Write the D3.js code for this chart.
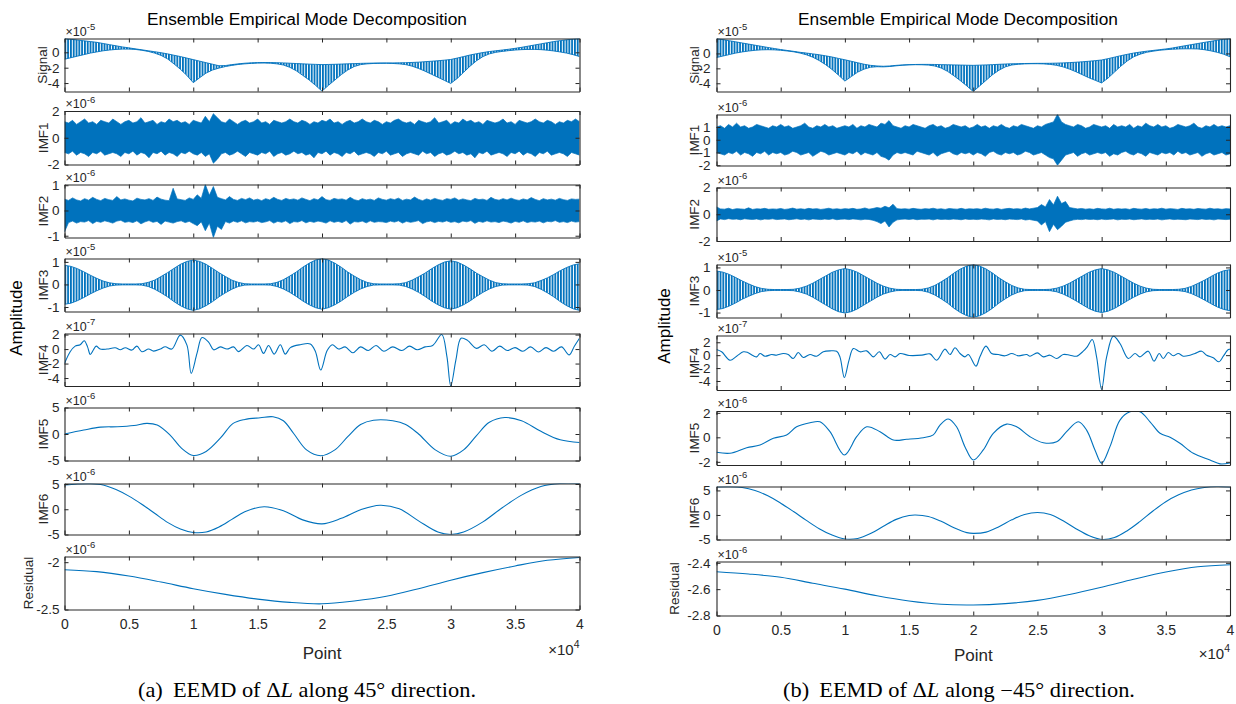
<!DOCTYPE html>
<html><head><meta charset="utf-8">
<script src="https://cdn.jsdelivr.net/npm/d3@7"></script>
<style>body{margin:0;background:#fff}</style>
</head><body><svg id="c" width="1236" height="704"></svg>
<script>
// ---------------- DATA ----------------
const subLabels = ['Signal','IMF1','IMF2','IMF3','IMF4','IMF5','IMF6','Residual'];
const xTicks = [0,0.5,1,1.5,2,2.5,3,3.5,4];
const titleText = 'Ensemble Empirical Mode Decomposition';
const expA = ['-5','-6','-6','-5','-7','-6','-6','-6'];
const expB = ['-5','-6','-6','-5','-7','-6','-6','-6'];
const ticksA = [[-4,-2,0],[-2,0,2],[-1,0,1],[-1,0,1],[-4,-2,0,2],[-5,0,5],[-5,0,5],[-2.5,-2]];
const ticksB = [[-4,-2,0],[-2,-1,0,1],[-2,0,2],[-1,0,1],[-4,-2,0,2],[-2,0,2],[-5,0,5],[-2.8,-2.6,-2.4]];
const domA = [[-5.1,1.8],[-2,2],[-1.07,1.03],[-1.2,1.15],[-5.1,2.15],[-5,5],[-5,5.1],[-2.5,-1.94]];
const domB = [[-5.1,2.0],[-2.02,1.98],[-2,2],[-1.22,1.13],[-5.4,3.05],[-2.26,2.15],[-5,5.8],[-2.8,-2.39]];

// Signal: per-sample upper / lower extremes (x = 0..4 step 0.05, units 1e-5)
const sigA_hi = [1.8,1.7,1.6,1.5,1.4,1.3,1.15,1.0,0.85,0.7,
0.58,0.45,0.33,0.2,0.08,-0.05,-0.2,-0.38,-0.55,-0.75,
-0.95,-1.15,-1.35,-1.55,-1.75,-1.72,-1.6,-1.5,-1.42,-1.37,
-1.34,-1.33,-1.33,-1.35,-1.38,-1.42,-1.46,-1.5,-1.54,-1.57,
-1.6,-1.58,-1.56,-1.53,-1.5,-1.47,-1.44,-1.42,-1.4,-1.39,
-1.38,-1.38,-1.37,-1.35,-1.32,-1.28,-1.22,-1.16,-1.1,-1.02,
-0.93,-0.75,-0.55,-0.35,-0.18,-0.03,0.1,0.2,0.3,0.4,
0.52,0.65,0.8,0.95,1.1,1.25,1.4,1.52,1.63,1.72,1.8];
const sigA_lo = [-0.9,-0.7,-0.5,-0.3,-0.1,0.05,0.2,0.3,0.38,0.42,
0.42,0.38,0.27,0.12,-0.1,-0.4,-0.85,-1.5,-2.2,-3.0,
-3.95,-3.3,-2.7,-2.3,-2.05,-1.85,-1.7,-1.58,-1.5,-1.44,
-1.4,-1.39,-1.42,-1.5,-1.65,-1.95,-2.4,-3.0,-3.6,-4.3,
-5.05,-4.3,-3.6,-2.9,-2.3,-1.85,-1.6,-1.5,-1.45,-1.43,
-1.43,-1.45,-1.5,-1.6,-1.8,-2.1,-2.45,-2.85,-3.25,-3.65,
-4.05,-3.4,-2.6,-1.8,-1.1,-0.55,-0.2,0.0,0.12,0.22,
0.3,0.35,0.38,0.38,0.35,0.28,0.18,0.05,-0.1,-0.3,-0.55];
const sigB_hi = [2.0,1.85,1.7,1.55,1.4,1.25,1.1,0.95,0.8,0.66,
0.52,0.4,0.28,0.15,0.05,-0.06,-0.18,-0.32,-0.48,-0.67,
-0.85,-1.05,-1.25,-1.45,-1.6,-1.68,-1.72,-1.68,-1.6,-1.54,
-1.5,-1.48,-1.47,-1.47,-1.48,-1.5,-1.52,-1.54,-1.56,-1.58,
-1.6,-1.57,-1.54,-1.5,-1.46,-1.42,-1.39,-1.37,-1.35,-1.34,
-1.33,-1.33,-1.32,-1.3,-1.27,-1.23,-1.18,-1.12,-1.05,-0.97,
-0.88,-0.7,-0.5,-0.3,-0.12,0.05,0.18,0.3,0.4,0.5,
0.6,0.72,0.88,1.03,1.18,1.33,1.48,1.62,1.76,1.9,2.0];
const sigB_lo = [-0.55,-0.35,-0.15,0.05,0.2,0.32,0.42,0.48,0.5,0.48,
0.42,0.33,0.22,0.05,-0.18,-0.5,-0.95,-1.5,-2.15,-2.9,
-3.7,-3.1,-2.5,-2.1,-1.85,-1.78,-1.8,-1.75,-1.66,-1.58,
-1.53,-1.51,-1.52,-1.56,-1.68,-1.95,-2.4,-3.0,-3.65,-4.35,
-5.1,-4.35,-3.6,-2.85,-2.25,-1.8,-1.55,-1.45,-1.4,-1.38,
-1.38,-1.4,-1.47,-1.6,-1.8,-2.1,-2.45,-2.85,-3.25,-3.6,
-3.95,-3.3,-2.5,-1.7,-1.0,-0.45,-0.1,0.15,0.3,0.42,
0.5,0.56,0.6,0.62,0.62,0.6,0.5,0.35,0.15,-0.1,-0.45];

// IMF1: per-sample extremes (129 samples over 0..4, units 0.1e-6)
const imf1A_hi = [12,11,13,10,12,14,11,12,10,13,12,11,14,12,10,12,
13,11,12,15,11,12,13,10,12,11,14,12,13,11,12,10,
13,12,11,16,12,18,15,12,11,14,12,10,12,13,11,12,
14,11,12,10,13,12,11,12,14,12,11,13,12,10,12,11,
13,12,14,11,12,10,12,13,11,12,14,12,11,13,12,10,
12,11,13,14,12,11,12,10,13,12,11,12,15,11,12,13,
10,12,11,14,12,13,11,12,10,13,12,11,12,14,11,12,
10,13,12,11,12,14,12,11,13,12,10,12,11,13,12,14,12];
const imf1A_lo = [-11,-12,-10,-13,-11,-12,-14,-11,-12,-10,-13,-12,-11,-12,-14,-11,
-12,-10,-13,-11,-12,-15,-11,-12,-10,-13,-11,-12,-14,-11,-12,-10,
-12,-13,-11,-14,-12,-19,-16,-12,-11,-13,-12,-10,-12,-14,-11,-12,
-13,-11,-12,-10,-14,-12,-11,-13,-12,-10,-12,-11,-13,-12,-15,-11,
-12,-10,-13,-11,-12,-14,-11,-12,-10,-13,-12,-11,-12,-14,-11,-12,
-10,-13,-12,-11,-14,-12,-11,-12,-13,-10,-12,-11,-14,-12,-11,-13,
-12,-10,-12,-11,-13,-12,-15,-11,-12,-10,-13,-12,-11,-12,-14,-11,
-12,-10,-13,-11,-12,-14,-11,-12,-10,-13,-12,-11,-12,-14,-11,-12,-13];
const imf1B_hi = [10,11,9,12,10,13,10,11,9,10,12,11,10,9,11,10,
12,10,11,9,10,11,13,10,9,11,10,12,10,11,9,10,
11,10,12,9,11,10,12,11,10,13,12,15,11,10,9,11,
10,12,11,10,9,11,12,10,11,9,10,12,11,10,11,9,
10,12,10,11,9,11,10,12,10,9,11,10,12,11,10,9,
11,10,12,13,14,20,14,12,11,10,12,11,9,10,12,11,
10,11,9,12,10,11,10,12,9,11,10,13,11,10,12,10,
11,9,10,12,11,10,11,13,10,9,11,10,12,10,11,10,11];
const imf1B_lo = [-10,-11,-12,-10,-11,-9,-12,-10,-11,-13,-10,-11,-9,-12,-10,-11,
-10,-12,-11,-9,-10,-12,-11,-10,-13,-11,-9,-10,-12,-11,-10,-11,
-12,-10,-11,-9,-12,-10,-11,-12,-10,-13,-14,-16,-12,-10,-11,-10,
-11,-12,-9,-10,-11,-12,-10,-13,-11,-10,-9,-11,-12,-10,-11,-10,
-12,-10,-11,-13,-10,-9,-11,-12,-10,-11,-10,-12,-11,-9,-10,-12,
-11,-10,-12,-14,-15,-20,-16,-12,-11,-10,-13,-11,-10,-12,-11,-10,
-11,-10,-13,-11,-12,-10,-9,-11,-12,-10,-11,-13,-10,-11,-12,-10,
-11,-10,-12,-9,-11,-10,-12,-11,-10,-13,-11,-10,-12,-11,-10,-12,-11];

// IMF2: per-sample extremes (129 samples, units 0.01e-6)
const imf2A_hi = [45,40,50,42,38,47,41,52,44,39,48,43,40,55,42,46,
41,38,49,44,42,47,40,53,45,41,39,88,46,43,40,50,
44,62,48,103,60,95,52,47,42,55,44,40,48,43,50,41,
45,39,47,42,52,44,40,48,43,46,41,50,44,39,47,42,
55,43,40,48,44,46,41,52,43,39,47,42,45,40,50,44,
41,47,43,49,40,45,42,53,44,39,46,41,48,43,40,47,
44,50,41,46,42,39,48,43,45,40,52,44,41,47,42,49,
43,40,46,42,51,44,39,47,42,45,41,48,43,40,46,44,45];
const imf2A_lo = [-85,-48,-42,-50,-44,-46,-40,-52,-43,-47,-41,-45,-50,-42,-39,-47,
-44,-48,-41,-53,-45,-40,-47,-43,-55,-42,-46,-50,-44,-41,-48,-43,
-52,-60,-45,-80,-50,-107,-62,-75,-44,-50,-42,-47,-41,-49,-44,-46,
-42,-48,-45,-40,-50,-43,-47,-41,-52,-44,-46,-40,-49,-43,-47,-42,
-45,-50,-41,-47,-43,-48,-40,-54,-44,-46,-42,-49,-41,-47,-44,-45,
-48,-42,-46,-41,-50,-43,-47,-44,-40,-52,-45,-42,-48,-43,-46,-41,
-47,-44,-49,-42,-45,-40,-51,-43,-47,-41,-46,-44,-48,-42,-45,-50,
-43,-47,-41,-48,-44,-46,-42,-49,-43,-45,-40,-47,-44,-48,-42,-46,-44];
const imf2B_hi = [55,40,38,45,35,42,40,37,48,36,41,39,44,37,40,38,
43,36,40,46,38,41,37,44,39,42,36,40,45,38,41,37,
42,39,44,37,40,47,38,43,50,45,60,48,75,42,39,41,
38,44,40,37,42,39,45,38,41,36,43,40,38,44,37,41,
39,42,37,45,40,38,43,36,41,44,39,42,38,46,40,45,
50,72,55,110,70,135,80,95,50,45,40,43,38,41,37,44,
40,38,45,37,42,39,41,36,44,40,38,43,37,41,39,45,
38,42,40,36,44,39,41,37,43,40,38,45,39,41,37,42,40];
const imf2B_lo = [-50,-35,-40,-33,-38,-36,-41,-34,-37,-39,-35,-42,-36,-38,-34,-40,
-37,-35,-41,-38,-34,-39,-36,-42,-35,-38,-40,-36,-39,-34,-41,-37,
-36,-40,-35,-38,-42,-37,-39,-45,-55,-70,-50,-95,-60,-42,-38,-36,
-39,-35,-41,-37,-38,-36,-42,-35,-39,-37,-40,-36,-38,-41,-35,-39,
-37,-40,-36,-38,-42,-35,-39,-37,-41,-36,-38,-40,-35,-43,-39,-45,
-50,-80,-55,-130,-75,-115,-90,-60,-50,-42,-38,-40,-36,-39,-37,-41,
-36,-40,-38,-35,-42,-37,-39,-36,-41,-38,-35,-40,-37,-39,-36,-42,
-38,-35,-40,-37,-39,-41,-36,-38,-40,-35,-39,-37,-42,-36,-38,-40,-37];

// IMF3: per-sample extremes (x = 0..4 step 0.05, units 1e-5)
const imf3A_hi = [.85,.80,.70,.56,.41,.27,.15,.07,.03,.02,
.02,.02,.03,.09,.19,.35,.52,.71,.89,1.02,
1.08,1.02,.89,.71,.52,.35,.19,.09,.03,.02,
.02,.02,.03,.09,.21,.37,.55,.76,.94,1.08,
1.15,1.08,.94,.76,.55,.37,.21,.09,.03,.02,
.02,.02,.03,.08,.19,.34,.50,.69,.86,.99,
1.05,.99,.86,.69,.50,.34,.19,.08,.03,.02,
.02,.02,.03,.07,.17,.29,.44,.61,.75,.86,.92];
const imf3A_lo = [-.88,-.83,-.72,-.58,-.42,-.28,-.16,-.07,-.03,-.02,
-.02,-.02,-.03,-.09,-.21,-.37,-.55,-.76,-.94,-1.08,
-1.15,-1.08,-.94,-.76,-.55,-.37,-.21,-.09,-.03,-.02,
-.02,-.02,-.03,-.09,-.20,-.35,-.53,-.73,-.90,-1.03,
-1.1,-1.03,-.90,-.73,-.53,-.35,-.20,-.09,-.03,-.02,
-.02,-.02,-.03,-.09,-.20,-.35,-.53,-.73,-.90,-1.03,
-1.1,-1.03,-.90,-.73,-.53,-.35,-.20,-.09,-.03,-.02,
-.02,-.02,-.03,-.09,-.21,-.37,-.55,-.76,-.94,-1.08,-1.15];
const imf3B_hi = [.84,.79,.69,.55,.40,.27,.15,.07,.03,.02,
.02,.02,.03,.08,.17,.30,.46,.62,.78,.89,
.95,.89,.78,.62,.46,.30,.17,.08,.03,.02,
.02,.02,.03,.09,.20,.36,.54,.75,.93,1.06,
1.13,1.06,.93,.75,.54,.36,.20,.09,.03,.02,
.02,.02,.03,.08,.17,.30,.46,.62,.78,.89,
.95,.89,.78,.62,.46,.30,.17,.08,.03,.02,
.02,.02,.03,.07,.16,.29,.43,.59,.74,.85,.9];
const imf3B_lo = [-.87,-.82,-.71,-.57,-.41,-.28,-.16,-.07,-.03,-.02,
-.02,-.02,-.03,-.09,-.18,-.32,-.49,-.66,-.83,-.96,
-1.02,-.96,-.83,-.66,-.49,-.32,-.18,-.09,-.03,-.02,
-.02,-.02,-.03,-.10,-.22,-.39,-.58,-.81,-1.0,-1.14,
-1.22,-1.14,-1.0,-.81,-.58,-.39,-.22,-.10,-.03,-.02,
-.02,-.02,-.03,-.08,-.18,-.32,-.48,-.65,-.82,-.94,
-1.0,-.94,-.82,-.65,-.48,-.32,-.18,-.08,-.03,-.02,
-.02,-.02,-.03,-.07,-.16,-.29,-.44,-.60,-.75,-.86,-.92];

// IMF4 (units 1e-7)
const imf4A_x = [0,0.044,0.083,0.122,0.153,0.179,0.2,0.225,0.246,0.277,0.33,0.394,0.433,0.472,0.524,0.562,0.601,0.653,0.692,0.744,0.782,0.834,0.899,0.951,0.984,1.029,1.068,1.119,1.158,1.21,1.262,1.313,1.352,1.417,1.469,1.507,1.546,1.585,1.629,1.676,1.715,1.754,1.831,1.909,1.948,1.99,2.04,2.08,2.13,2.18,2.24,2.3,2.36,2.42,2.48,2.55,2.62,2.68,2.74,2.8,2.86,2.93,2.97,3.0,3.04,3.08,3.13,3.2,3.26,3.32,3.38,3.44,3.5,3.56,3.62,3.68,3.74,3.8,3.86,3.92,3.96,4.0];
const imf4A_y = [-2.0,-0.37,0.41,0.6,1.15,0.3,-0.74,-0.1,0.41,0.0,0.0,0.18,-0.1,0.18,-0.14,0.41,-0.37,0.0,-0.28,0.0,0.32,0.0,1.93,0.55,-3.35,-0.6,1.6,0.97,-0.1,0.3,0.0,0.3,-0.35,0.5,0.0,0.6,-0.6,0.5,-0.7,0.6,-0.7,0.2,0.6,0.7,-0.3,-2.9,-0.2,0.6,0.0,0.3,-0.5,0.3,-0.2,0.5,-0.3,0.3,-0.2,0.4,-0.1,0.3,0.5,2.0,-1.0,-5.1,-1.5,1.5,1.2,0.1,0.6,-0.3,0.4,-0.2,0.2,-0.3,0.3,-0.4,0.2,-0.3,0.3,-0.8,0.4,1.5];
const imf4B_x = [0,0.04,0.105,0.157,0.209,0.24,0.287,0.313,0.339,0.378,0.43,0.468,0.52,0.559,0.598,0.637,0.676,0.728,0.78,0.832,0.884,0.936,0.962,0.996,1.032,1.066,1.118,1.17,1.222,1.268,1.313,1.352,1.391,1.43,1.5,1.6,1.663,1.715,1.78,1.819,1.858,1.897,1.935,1.962,2.021,2.052,2.099,2.143,2.195,2.247,2.3,2.351,2.416,2.442,2.499,2.546,2.598,2.65,2.701,2.753,2.805,2.857,2.888,2.927,2.961,3.0,3.039,3.091,3.143,3.208,3.26,3.299,3.363,3.408,3.449,3.48,3.519,3.558,3.597,3.636,3.688,3.727,3.779,3.818,3.87,3.914,3.948,3.987,4.0];
const imf4B_y = [0.88,0.52,-0.78,-0.16,0.52,0.45,-0.1,-0.26,0.26,-0.16,0.1,0.0,0.26,0.1,-0.52,0.41,-0.36,0.1,-0.16,0.52,0.67,0.6,-0.3,-3.46,-0.8,1.03,0.52,0.67,-0.26,0.52,-0.62,0.1,-0.26,0.26,-0.05,0.0,0.2,-0.78,0.93,0.1,1.14,0.26,-0.26,0.1,-1.7,-0.26,1.4,0.26,0.1,-0.1,0.26,-0.1,0.1,-0.16,0.36,-0.26,0.0,-0.52,0.1,0.0,-0.16,0.62,1.29,2.43,-0.3,-5.3,-0.26,2.95,1.81,-0.52,0.26,-0.26,0.62,-0.93,0.26,-0.52,0.41,-0.1,0.26,-0.16,0.0,0.26,0.62,0.0,-0.41,-1.03,-0.16,0.88,0.9];

// IMF5 (units 1e-6)
const imf5A_x = [0,0.15,0.28,0.41,0.54,0.64,0.72,0.82,0.91,1.0,1.1,1.21,1.31,1.4,1.52,1.62,1.7,1.78,1.88,1.99,2.1,2.2,2.3,2.4,2.55,2.65,2.75,2.88,3.0,3.1,3.2,3.3,3.42,3.55,3.7,3.85,4.0];
const imf5A_y = [0,0.75,1.3,1.37,1.6,2.0,1.7,-0.2,-2.7,-4.05,-3.3,-0.8,2.0,2.75,3.06,3.25,2.5,0.1,-3.0,-4.1,-3.0,-0.5,1.8,2.6,2.5,1.8,0,-3.0,-4.2,-3.0,-0.3,2.2,3.1,2.5,0.5,-1.1,-1.6];
const imf5B_x = [0,0.105,0.235,0.339,0.443,0.546,0.624,0.728,0.806,0.884,0.996,1.092,1.17,1.274,1.378,1.481,1.611,1.689,1.741,1.805,1.87,1.935,2.0,2.078,2.156,2.26,2.338,2.442,2.546,2.65,2.727,2.818,2.883,2.948,3.0,3.065,3.143,3.221,3.299,3.377,3.455,3.533,3.61,3.714,3.844,3.922,4.0];
const imf5B_y = [-1.22,-1.3,-0.85,-0.63,-0.08,0.19,0.86,1.19,1.27,0.46,-1.44,0.05,0.86,0.46,-0.22,-0.16,-0.03,0.2,1.0,1.5,0.86,-0.76,-1.85,-1.03,0.33,1.08,0.86,0.05,-0.44,-0.36,0.46,1.27,0.59,-1.03,-2.11,-0.76,1.41,2.08,2.08,1.27,0.33,0.0,-0.49,-1.3,-1.85,-2.17,-2.1];

// IMF6 (units 1e-6)
const imf6A_x = [0,0.1,0.2,0.3,0.4,0.5,0.6,0.7,0.8,0.9,1.0,1.1,1.2,1.3,1.4,1.55,1.7,1.85,2.0,2.15,2.3,2.45,2.6,2.75,2.9,3.0,3.1,3.25,3.4,3.55,3.7,3.85,4.0];
const imf6A_y = [4.8,5.0,5.05,4.8,3.9,2.6,1.0,-0.8,-2.6,-3.9,-4.6,-4.5,-3.5,-2.0,-0.5,0.5,-0.3,-2.1,-2.9,-1.8,-0.1,0.8,0.1,-2.3,-4.5,-5.0,-4.5,-2.5,0.3,2.8,4.5,5.1,5.1];
const imf6B_x = [0,0.1,0.2,0.3,0.4,0.5,0.6,0.7,0.8,0.9,1.0,1.1,1.2,1.3,1.4,1.5,1.55,1.65,1.75,1.85,1.95,2.0,2.1,2.2,2.3,2.4,2.5,2.6,2.7,2.8,2.9,3.0,3.1,3.2,3.3,3.4,3.5,3.6,3.7,3.8,3.9,4.0];
const imf6B_y = [5.7,5.75,5.6,5.0,3.9,2.4,0.7,-1.1,-2.8,-4.1,-4.9,-4.8,-3.8,-2.3,-0.9,-0.1,0.0,-0.3,-1.3,-2.6,-3.6,-3.75,-3.5,-2.4,-1.0,0.1,0.5,0.1,-1.2,-2.8,-4.2,-5.0,-4.6,-3.2,-1.3,0.8,2.7,4.1,5.1,5.6,5.8,5.7];

// Residual (units 1e-6)
const resA_x = [0,0.25,0.5,0.75,1.0,1.25,1.5,1.75,2.0,2.25,2.5,2.75,3.0,3.25,3.5,3.75,4.0];
const resA_y = [-2.08,-2.1,-2.146,-2.21,-2.28,-2.34,-2.39,-2.425,-2.44,-2.41,-2.36,-2.28,-2.19,-2.11,-2.04,-1.98,-1.95];
const resB_x = [0,0.25,0.5,0.75,1.0,1.25,1.5,1.75,2.0,2.25,2.5,2.75,3.0,3.25,3.5,3.75,4.0];
const resB_y = [-2.468,-2.485,-2.51,-2.555,-2.6,-2.65,-2.69,-2.715,-2.72,-2.71,-2.685,-2.64,-2.585,-2.525,-2.47,-2.43,-2.415];

// ---------------- DRAWING ----------------
const BLUE = '#0072BD';
const AXC = '#262626';
const FONT = "'Liberation Sans', Arial, Helvetica, sans-serif";
const SERIF = "'Liberation Serif', 'DejaVu Serif', serif";
const svg = d3.select('#c');
const defs = svg.append('defs');
defs.append('pattern').attr('id','stripes').attr('patternUnits','userSpaceOnUse')
  .attr('width',2.8).attr('height',8)
  .append('rect').attr('x',0).attr('y',0).attr('width',1.8).attr('height',8).attr('fill',BLUE);

function series(tag){
  return tag==='A'
   ? [{k:'stripe',hi:sigA_hi,lo:sigA_lo,u:1},{k:'solid',hi:imf1A_hi,lo:imf1A_lo,u:0.1},{k:'solid',hi:imf2A_hi,lo:imf2A_lo,u:0.01},{k:'stripe',hi:imf3A_hi,lo:imf3A_lo,u:1},
      {k:'line',xs:imf4A_x,ys:imf4A_y},{k:'line',xs:imf5A_x,ys:imf5A_y},{k:'line',xs:imf6A_x,ys:imf6A_y},{k:'line',xs:resA_x,ys:resA_y}]
   : [{k:'stripe',hi:sigB_hi,lo:sigB_lo,u:1},{k:'solid',hi:imf1B_hi,lo:imf1B_lo,u:0.1},{k:'solid',hi:imf2B_hi,lo:imf2B_lo,u:0.01},{k:'stripe',hi:imf3B_hi,lo:imf3B_lo,u:1},
      {k:'line',xs:imf4B_x,ys:imf4B_y},{k:'line',xs:imf5B_x,ys:imf5B_y},{k:'line',xs:imf6B_x,ys:imf6B_y},{k:'line',xs:resB_x,ys:resB_y}];
}

const panels = [
  {tag:'A', xl:64.5, xr:579.5, titleX:307, capX:307, ampX:22, ampY:318,
   labX:[47,48,48,48,48,48,48,33], tickPad:5,
   tops:[38.5,111,184.5,258.5,333.5,407.5,483.5,556.5], bots:[91.5,164.5,237.5,311.5,386,460.5,534.5,609.5],
   dom:domA, ticks:ticksA, exp:expA, pointY:659, x104Y:655, cap:'(a)', capText:['EEMD of Δ','L',' along 45° direction.']},
  {tag:'B', xl:716.5, xr:1230, titleX:958, capX:959, ampX:670, ampY:326,
   labX:[699,699,699,699,699,699,699,679], tickPad:6,
   tops:[38.5,114.5,187.5,264.5,335.5,411,486.5,561.5], bots:[91.5,165.5,241,317.5,390,465,539.5,615.5],
   dom:domB, ticks:ticksB, exp:expB, pointY:661, x104Y:659, cap:'(b)', capText:['EEMD of Δ','L',' along −45° direction.']}
];

panels.forEach((p,pi)=>{
  const x = d3.scaleLinear().domain([0,4]).range([p.xl,p.xr]);
  const S = series(p.tag);
  S.forEach((s,si)=>{
    const top=p.tops[si], bot=p.bots[si];
    const y = d3.scaleLinear().domain(p.dom[si]).range([bot,top]);
    const g = svg.append('g');
    const cid = 'clip'+pi+'_'+si;
    defs.append('clipPath').attr('id',cid).append('rect')
      .attr('x',p.xl).attr('y',top).attr('width',p.xr-p.xl).attr('height',bot-top);
    const dg = g.append('g').attr('clip-path','url(#'+cid+')');
    if(s.k==='stripe'||s.k==='solid'){
      const n=s.hi.length;
      const pts=s.hi.map((h,i)=>({x:i*4/(n-1),hi:h*s.u,lo:s.lo[i]*s.u}));
      dg.append('path').datum(pts)
        .attr('d',d3.area().x(d=>x(d.x)).y0(d=>y(d.lo)).y1(d=>y(d.hi)))
        .attr('fill', s.k==='stripe'?'url(#stripes)':BLUE);
      const lw = s.k==='stripe'?0.9:0.7;
      dg.append('path').datum(pts).attr('d',d3.line().x(d=>x(d.x)).y(d=>y(d.hi)))
        .attr('fill','none').attr('stroke',BLUE).attr('stroke-width',lw);
      dg.append('path').datum(pts).attr('d',d3.line().x(d=>x(d.x)).y(d=>y(d.lo)))
        .attr('fill','none').attr('stroke',BLUE).attr('stroke-width',lw);
    } else {
      const pts=s.xs.map((v,i)=>[v,s.ys[i]]);
      dg.append('path').datum(pts)
        .attr('d',d3.line().x(d=>x(d[0])).y(d=>y(d[1])).curve(d3.curveCatmullRom.alpha(0.5)))
        .attr('fill','none').attr('stroke',BLUE).attr('stroke-width',1.1);
    }
    const fmt=d=>String(d);
    const axL = g.append('g').attr('transform','translate('+p.xl+',0)')
      .call(d3.axisLeft(y).tickValues(p.ticks[si]).tickSize(-4).tickSizeOuter(0).tickPadding(p.tickPad).tickFormat(fmt));
    const axR = g.append('g').attr('transform','translate('+p.xr+',0)')
      .call(d3.axisRight(y).tickValues(p.ticks[si]).tickSize(-4).tickSizeOuter(0).tickFormat(''));
    const axT = g.append('g').attr('transform','translate(0,'+top+')')
      .call(d3.axisTop(x).tickValues(xTicks).tickSize(-4).tickSizeOuter(0).tickFormat(''));
    const last = si===S.length-1;
    const axB = g.append('g').attr('transform','translate(0,'+bot+')')
      .call(d3.axisBottom(x).tickValues(xTicks).tickSize(-4).tickSizeOuter(0).tickPadding(10).tickFormat(last?fmt:''));
    [axL,axR,axT,axB].forEach(a=>{
      a.attr('font-family',FONT).attr('font-size',13.5);
      a.selectAll('.domain').attr('stroke',AXC).attr('stroke-width',1.1);
      a.selectAll('.tick line').attr('stroke',AXC).attr('stroke-width',1);
      a.selectAll('text').attr('fill',AXC);
    });
    axB.attr('font-size',14);
    const et = svg.append('text').attr('x',p.xl+1).attr('y',top-3)
      .attr('font-family',FONT).attr('font-size',12.5).attr('fill',AXC);
    et.append('tspan').text('×10');
    et.append('tspan').attr('dy',-5.5).attr('font-size',9.5).text(p.exp[si]);
    svg.append('text').attr('transform','translate('+p.labX[si]+','+((top+bot)/2)+') rotate(-90)')
      .attr('text-anchor','middle').attr('font-family',FONT).attr('font-size',13.5).attr('fill',AXC)
      .text(subLabels[si]);
  });
  svg.append('text').attr('x',p.titleX).attr('y',25).attr('text-anchor','middle')
    .attr('font-family',FONT).attr('font-size',17.3).attr('fill','#000').text(titleText);
  svg.append('text').attr('transform','translate('+p.ampX+','+p.ampY+') rotate(-90)')
    .attr('text-anchor','middle').attr('font-family',FONT).attr('font-size',17).attr('fill','#000').text('Amplitude');
  svg.append('text').attr('x',(p.xl+p.xr)/2).attr('y',p.pointY).attr('text-anchor','middle')
    .attr('font-family',FONT).attr('font-size',17).attr('fill',AXC).text('Point');
  const xt = svg.append('text').attr('x',p.xr).attr('y',p.x104Y).attr('text-anchor','end')
    .attr('font-family',FONT).attr('font-size',15).attr('fill',AXC);
  xt.append('tspan').text('×10');
  xt.append('tspan').attr('dy',-7).attr('font-size',10.5).text('4');
  const ct = svg.append('text').attr('transform','translate('+p.capX+',697) scale(1.12,1)').attr('text-anchor','middle')
    .attr('font-family',SERIF).attr('font-size',20).attr('fill','#000');
  ct.append('tspan').text(p.cap);
  ct.append('tspan').attr('dx',9).text(p.capText[0]);
  ct.append('tspan').attr('font-style','italic').text(p.capText[1]);
  ct.append('tspan').text(p.capText[2]);
});
</script></body></html>
